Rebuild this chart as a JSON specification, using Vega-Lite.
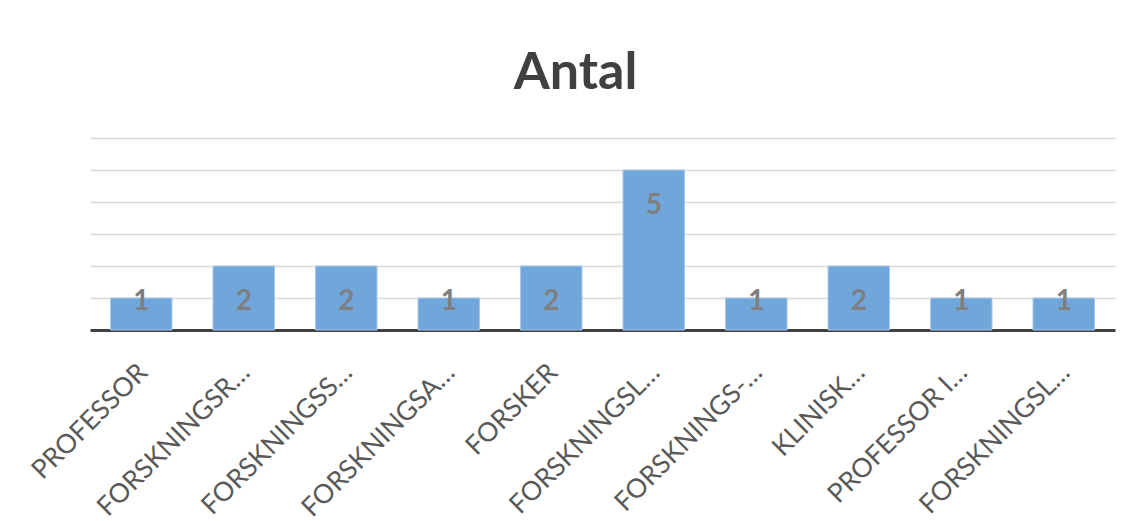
{
  "$schema": "https://vega.github.io/schema/vega-lite/v6.json",
  "autosize": "none",
  "width": 1025,
  "height": 192,
  "padding": {"left": 90, "top": 138, "right": 17, "bottom": 191},
  "background": "white",
  "title": {
    "text": "Antal",
    "font": "Lato",
    "fontSize": 52,
    "fontWeight": "bold",
    "color": "#404040",
    "anchor": "middle",
    "dx": -27,
    "offset": 38
  },
  "data": {
    "values": [
      {"titel": "PROFESSOR", "antal": 1},
      {"titel": "FORSKNINGSR…", "antal": 2},
      {"titel": "FORSKNINGSS…", "antal": 2},
      {"titel": "FORSKNINGSA…", "antal": 1},
      {"titel": "FORSKER", "antal": 2},
      {"titel": "FORSKNINGSL…", "antal": 5},
      {"titel": "FORSKNINGS-…", "antal": 1},
      {"titel": "KLINISK…", "antal": 2},
      {"titel": "PROFESSOR I…", "antal": 1},
      {"titel": "FORSKNINGSL…\u200b", "antal": 1}
    ]
  },
  "encoding": {
    "x": {
      "field": "titel",
      "type": "nominal",
      "sort": null,
      "title": null,
      "scale": {"paddingInner": 0.4, "paddingOuter": 0.2},
      "axis": {
        "labelAngle": -45,
        "labelAlign": "right",
        "labelBaseline": "middle",
        "labelFont": "Lato",
        "labelFontSize": 26.5,
        "labelColor": "#595959",
        "labelLimit": 300,
        "labelPadding": 38,
        "labelOffset": 2,
        "ticks": false,
        "domainColor": "#404040",
        "domainWidth": 3
      }
    }
  },
  "layer": [
    {
      "mark": {"type": "bar", "color": "#70a6da", "stroke": "#a8c8ea", "strokeWidth": 1},
      "encoding": {
        "y": {
          "field": "antal",
          "type": "quantitative",
          "title": null,
          "scale": {"domain": [0, 6]},
          "axis": {
            "values": [1, 2, 3, 4, 5, 6],
            "labels": false,
            "ticks": false,
            "domain": false,
            "gridColor": "#d9d9d9",
            "gridWidth": 1.5
          }
        }
      }
    },
    {
      "mark": {
        "type": "text",
        "font": "Lato",
        "fontSize": 28,
        "fontWeight": "bold",
        "color": "#7f7f7f",
        "baseline": "middle",
        "dy": -28
      },
      "encoding": {
        "y": {
          "field": "antal",
          "type": "quantitative",
          "scale": {"domain": [2, 8], "clamp": true},
          "axis": null
        },
        "text": {"field": "antal", "type": "quantitative"}
      }
    }
  ],
  "resolve": {"scale": {"y": "independent"}},
  "config": {"view": {"stroke": null}}
}
